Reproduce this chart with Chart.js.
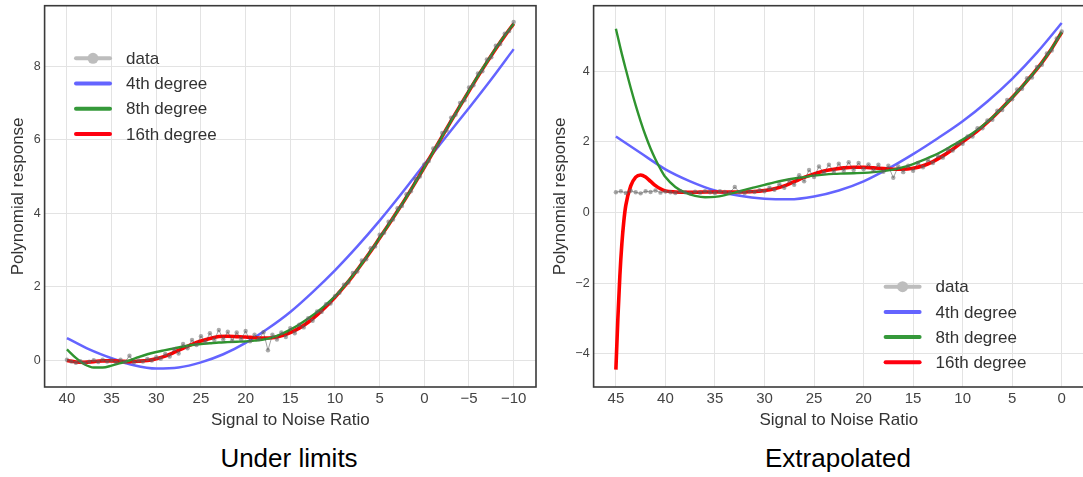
<!DOCTYPE html>
<html>
<head>
<meta charset="utf-8">
<title>Polynomial response</title>
<script src="https://cdn.jsdelivr.net/npm/chart.js@4.4.1/dist/chart.umd.min.js"></script>
<style>
  html, body { margin: 0; padding: 0; background: #fff; }
  body { width: 1083px; height: 477px; overflow: hidden; position: relative; font-family: "Liberation Sans", Arial, sans-serif; }
  #left { position: absolute; left: 0; top: 0; }
  #right { position: absolute; left: 540px; top: 0; }
  .caption { position: absolute; top: 443px; width: 300px; font-size: 26px; line-height: 30px; color: #000; text-align: center; }
</style>
</head>
<body>
<canvas id="left" width="540" height="440"></canvas>
<canvas id="right" width="548" height="440"></canvas>
<div class="caption" style="left:139px">Under limits</div>
<div class="caption" style="left:688px">Extrapolated</div>
<script>
// ---- data: "Under limits" panel ----
const xTicksLeft = [40, 35, 30, 25, 20, 15, 10, 5, 0, -5, -10];
const yTicksLeft = [0, 2, 4, 6, 8];

const snrFitLeft = [40, 39, 38, 37, 36, 35, 34, 33, 32, 31, 30, 29, 28, 27, 26, 25, 24, 23, 22, 21, 20,
  19, 18, 17, 16, 15, 14, 13, 12, 11, 10, 9, 8, 7, 6, 5, 4, 3, 2, 1, 0,
  -1, -2, -3, -4, -5, -6, -7, -8, -9, -10];
const deg16Left = [0.00, -0.04, -0.05, -0.03, -0.01, -0.01, -0.02, -0.03, -0.02, 0.00, 0.05, 0.12, 0.22, 0.33, 0.44, 0.53, 0.60, 0.65, 0.66, 0.65, 0.64,
  0.62, 0.61, 0.62, 0.67, 0.76, 0.88, 1.04, 1.24, 1.47, 1.72, 2.00, 2.30, 2.63, 2.97, 3.33, 3.69, 4.06, 4.44, 4.84, 5.25,
  5.67, 6.09, 6.51, 6.92, 7.32, 7.72, 8.10, 8.47, 8.82, 9.15];
const deg8Left = [0.30, 0.07, -0.11, -0.19, -0.19, -0.14, -0.07, 0.00, 0.09, 0.17, 0.23, 0.28, 0.33, 0.38, 0.42, 0.45, 0.47, 0.49, 0.50, 0.51, 0.52,
  0.54, 0.57, 0.63, 0.72, 0.84, 0.98, 1.14, 1.32, 1.52, 1.74, 2.01, 2.31, 2.63, 2.97, 3.33, 3.69, 4.06, 4.44, 4.84, 5.25,
  5.67, 6.09, 6.51, 6.92, 7.33, 7.73, 8.11, 8.48, 8.83, 9.15];

const snrQuarticLeft = [40, 37.5, 35, 32.5, 30, 27.5, 25, 22.5, 20, 17.5, 15, 12.5, 10, 7.5, 5, 2.5, 0, -2.5, -5, -7.5, -10];
const deg4Left = [0.61, 0.30, 0.06, -0.13, -0.22, -0.19, -0.05, 0.17, 0.48, 0.87, 1.32, 1.86, 2.45, 3.10, 3.80, 4.55, 5.33, 6.10, 6.86, 7.64, 8.46];

// measured samples, every 0.5 dB from 40 down to -10
const measuredLeft = [0.02, -0.03, -0.06, -0.02, -0.07, -0.03, 0.01, -0.04, 0.02, -0.03,
  0.01, -0.05, 0.02, -0.04, 0.13, -0.05, 0.00, -0.03, 0.04, 0.00,
  0.09, 0.05, 0.18, 0.11, 0.31, 0.19, 0.45, 0.33, 0.56, 0.42,
  0.66, 0.50, 0.74, 0.56, 0.83, 0.57, 0.78, 0.54, 0.76, 0.58,
  0.80, 0.52, 0.70, 0.58, 0.77, 0.28, 0.70, 0.57, 0.76, 0.64,
  0.88, 0.74, 0.97, 0.90, 1.15, 1.08, 1.33, 1.32, 1.53, 1.55,
  1.75, 1.84, 2.06, 2.12, 2.38, 2.42, 2.72, 2.75, 3.05, 3.10,
  3.42, 3.47, 3.77, 3.83, 4.14, 4.20, 4.52, 4.60, 4.93, 5.00,
  5.33, 5.42, 5.76, 5.84, 6.18, 6.25, 6.60, 6.68, 7.00, 7.07,
  7.42, 7.48, 7.80, 7.86, 8.18, 8.24, 8.55, 8.60, 8.88, 8.95,
  9.20];

// ---- data: "Extrapolated" panel ----
const xTicksRight = [45, 40, 35, 30, 25, 20, 15, 10, 5, 0];
const yTicksRight = [-4, -2, 0, 2, 4];

const snrDeg16Right = [45, 44.8, 44.6, 44.4, 44.2, 44, 43.5, 43, 42.5, 42, 41.5, 41, 40.5, 40,
  39, 38, 37, 36, 35, 34, 33, 32, 31, 30, 29, 28, 27, 26, 25, 24, 23, 22, 21, 20,
  19, 18, 17, 16, 15, 14, 13, 12, 11, 10, 9, 8, 7, 6, 5, 4, 3, 2, 1, 0];
const deg16Right = [-4.45, -3.00, -1.80, -0.90, -0.25, 0.20, 0.75, 1.00, 1.06, 1.00, 0.88, 0.76, 0.67, 0.61,
  0.58, 0.57, 0.57, 0.58, 0.58, 0.58, 0.58, 0.58, 0.59, 0.62, 0.67, 0.75, 0.87, 0.99, 1.09, 1.17, 1.22, 1.26, 1.28, 1.28,
  1.26, 1.24, 1.22, 1.22, 1.25, 1.32, 1.44, 1.60, 1.79, 2.00, 2.20, 2.43, 2.68, 2.96, 3.25, 3.56, 3.89, 4.24, 4.64, 5.10];

const snrDeg8Right = [45, 44.5, 44, 43.5, 43, 42.5, 42, 41.5, 41, 40.5, 40,
  39, 38, 37, 36, 35, 34, 33, 32, 31, 30, 29, 28, 27, 26, 25, 24, 23, 22, 21, 20,
  19, 18, 17, 16, 15, 14, 13, 12, 11, 10, 9, 8, 7, 6, 5, 4, 3, 2, 1, 0];
const deg8Right = [5.20, 4.60, 4.05, 3.52, 3.03, 2.58, 2.17, 1.81, 1.50, 1.23, 1.00,
  0.72, 0.56, 0.47, 0.43, 0.44, 0.49, 0.56, 0.64, 0.71, 0.78, 0.85, 0.91, 0.96, 1.00, 1.04, 1.07, 1.09, 1.10, 1.11, 1.12,
  1.14, 1.17, 1.21, 1.28, 1.37, 1.48, 1.60, 1.74, 1.90, 2.06, 2.24, 2.45, 2.69, 2.96, 3.25, 3.56, 3.89, 4.24, 4.64, 5.10];

const snrQuarticRight = [45, 42.5, 40, 37.5, 35, 32.5, 30, 27.5, 25, 22.5, 20, 17.5, 15, 12.5, 10, 7.5, 5, 2.5, 0];
const deg4Right = [2.15, 1.68, 1.22, 0.88, 0.62, 0.47, 0.39, 0.37, 0.45, 0.62, 0.88, 1.24, 1.65, 2.10, 2.58, 3.14, 3.78, 4.52, 5.36];

// measured samples, every 0.5 dB from 45 down to 0
const measuredRight = [0.57, 0.60, 0.55, 0.61, 0.57, 0.54, 0.60, 0.58, 0.62, 0.56,
  0.59, 0.57, 0.55, 0.60, 0.57, 0.54, 0.59, 0.56, 0.60, 0.57,
  0.55, 0.60, 0.58, 0.56, 0.72, 0.57, 0.55, 0.60, 0.58, 0.63,
  0.60, 0.70, 0.64, 0.80, 0.70, 0.90, 0.78, 1.05, 0.88, 1.20,
  1.00, 1.30, 1.12, 1.35, 1.15, 1.38, 1.18, 1.42, 1.20, 1.40,
  1.22, 1.36, 1.18, 1.35, 1.15, 1.32, 0.98, 1.30, 1.14, 1.32,
  1.18, 1.40, 1.28, 1.48, 1.40, 1.60, 1.55, 1.78, 1.75, 1.95,
  1.94, 2.15, 2.15, 2.38, 2.38, 2.60, 2.62, 2.88, 2.90, 3.18,
  3.20, 3.48, 3.50, 3.80, 3.82, 4.12, 4.18, 4.50, 4.58, 4.92,
  5.12];

const seriesNames = ['data', '4th degree', '8th degree', '16th degree'];

// ---- helpers ----
const FONT = '"Liberation Sans", Arial, sans-serif';

function pairs(xs, ys) {
    return ys.map((y, i) => ({ x: xs[i], y: y }));
}

function sampled(start, step, ys) {
    return ys.map((y, i) => ({ x: start - i * step, y: y }));
}

function fmtNum(v) {
    return v < 0 ? '\u2212' + Math.abs(v) : String(v);
}

// box round the plot area
const frame = {
    id: 'frame',
    afterDatasetsDraw(chart) {
        const { ctx, chartArea: a } = chart;
        ctx.save();
        ctx.strokeStyle = '#3a3a3a';
        ctx.lineWidth = 1.6;
        ctx.strokeRect(a.left, a.top, a.right - a.left, a.bottom - a.top);
        ctx.restore();
    }
};

// legend drawn inside the plot, like matplotlib
const innerLegend = {
    id: 'innerLegend',
    afterDraw(chart, args, opts) {
        const { ctx, chartArea: a } = chart;
        const x0 = a.left + opts.dx;
        const y0 = opts.fromBottom ? a.bottom - opts.dy : a.top + opts.dy;
        ctx.save();
        ctx.font = '17px ' + FONT;
        ctx.textBaseline = 'middle';
        ctx.textAlign = 'left';
        chart.data.datasets.forEach((ds, i) => {
            const y = y0 + i * 25.2;
            ctx.strokeStyle = ds.legendColor;
            ctx.lineWidth = 4;
            ctx.lineCap = 'round';
            ctx.beginPath();
            ctx.moveTo(x0 + 2, y);
            ctx.lineTo(x0 + 36, y);
            ctx.stroke();
            if (ds.legendMarker) {
                ctx.fillStyle = ds.legendColor;
                ctx.beginPath();
                ctx.arc(x0 + 19, y, 5.5, 0, Math.PI * 2);
                ctx.fill();
            }
            ctx.fillStyle = '#333';
            ctx.fillText(ds.label, x0 + 52, y + 1);
        });
        ctx.restore();
    }
};

function buildDatasets(measured, quartic, octic, sixteenth) {
    return [
        {
            label: seriesNames[0], data: measured, order: 0,
            borderColor: 'rgba(70,70,70,0.5)', borderWidth: 1,
            pointRadius: 2.2, pointBorderWidth: 0, pointBackgroundColor: 'rgba(100,100,100,0.55)',
            legendColor: '#bdbdbd', legendMarker: true
        },
        {
            label: seriesNames[1], data: quartic, order: 3,
            borderColor: '#6464ff', borderWidth: 2.5, pointRadius: 0,
            cubicInterpolationMode: 'monotone', legendColor: '#6464ff'
        },
        {
            label: seriesNames[2], data: octic, order: 1,
            borderColor: '#2f942f', borderWidth: 2.4, pointRadius: 0,
            cubicInterpolationMode: 'monotone', legendColor: '#35993a'
        },
        {
            label: seriesNames[3], data: sixteenth, order: 2,
            borderColor: '#ff0000', borderWidth: 3.6, pointRadius: 0,
            cubicInterpolationMode: 'monotone', legendColor: '#ff0010'
        }
    ];
}

function buildOptions(p) {
    return {
        responsive: false,
        animation: false,
        events: [],
        layout: { padding: { top: 5.7, right: p.padRight, left: 0, bottom: 0 } },
        plugins: {
            legend: { display: false },
            tooltip: { enabled: false },
            innerLegend: p.legend
        },
        scales: {
            x: {
                type: 'linear', reverse: true, min: p.xMin, max: p.xMax,
                afterBuildTicks: s => { s.ticks = p.xTicks.slice().sort((a, b) => a - b).map(v => ({ value: v })); },
                afterFit: s => { s.height = 53; s.paddingLeft = 0; s.paddingRight = 0; },
                grid: { color: '#e3e3e3', lineWidth: 1, drawTicks: false },
                border: { display: false },
                ticks: { padding: 3, autoSkip: false, maxRotation: 0, color: '#444', font: { size: 15, family: FONT }, callback: v => fmtNum(v) },
                title: { display: true, text: 'Signal to Noise Ratio', color: '#333', font: { size: 17, family: FONT }, padding: { top: 0, bottom: 9 } }
            },
            y: {
                type: 'linear', min: p.yMin, max: p.yMax,
                afterBuildTicks: s => { s.ticks = p.yTicks.map(v => ({ value: v })); },
                afterFit: s => { s.width = p.yWidth; s.paddingTop = 0; s.paddingBottom = 0; },
                grid: { color: '#e3e3e3', lineWidth: 1, drawTicks: false },
                border: { display: false },
                ticks: { padding: 4, color: '#444', font: { size: 12.5, family: FONT }, callback: v => fmtNum(v) },
                title: { display: true, text: 'Polynomial response', color: '#333', font: { size: 17, family: FONT }, padding: { top: p.yTitlePad, bottom: 0 } }
            }
        }
    };
}

// ---- left chart ----
new Chart(document.getElementById('left').getContext('2d'), {
    type: 'line',
    data: {
        datasets: buildDatasets(
            sampled(40, 0.5, measuredLeft),
            pairs(snrQuarticLeft, deg4Left),
            pairs(snrFitLeft, deg8Left),
            pairs(snrFitLeft, deg16Left))
    },
    options: buildOptions({
        padRight: 1.2, yWidth: 44.6, yTitlePad: 7.8,
        xMin: -12.5, xMax: 42.5, xTicks: xTicksLeft,
        yMin: -0.72, yMax: 9.64, yTicks: yTicksLeft,
        legend: { dx: 29.4, dy: 52.6, fromBottom: false }
    }),
    plugins: [frame, innerLegend]
});

// ---- right chart ----
new Chart(document.getElementById('right').getContext('2d'), {
    type: 'line',
    data: {
        datasets: buildDatasets(
            sampled(45, 0.5, measuredRight),
            pairs(snrQuarticRight, deg4Right),
            pairs(snrDeg8Right, deg8Right),
            pairs(snrDeg16Right, deg16Right))
    },
    options: buildOptions({
        padRight: 3.2, yWidth: 53.6, yTitlePad: 9.7,
        xMin: -2.25, xMax: 47.25, xTicks: xTicksRight,
        yMin: -4.94, yMax: 5.85, yTicks: yTicksRight,
        legend: { dx: 290, dy: 100.3, fromBottom: true }
    }),
    plugins: [frame, innerLegend]
});
</script>
</body>
</html>
